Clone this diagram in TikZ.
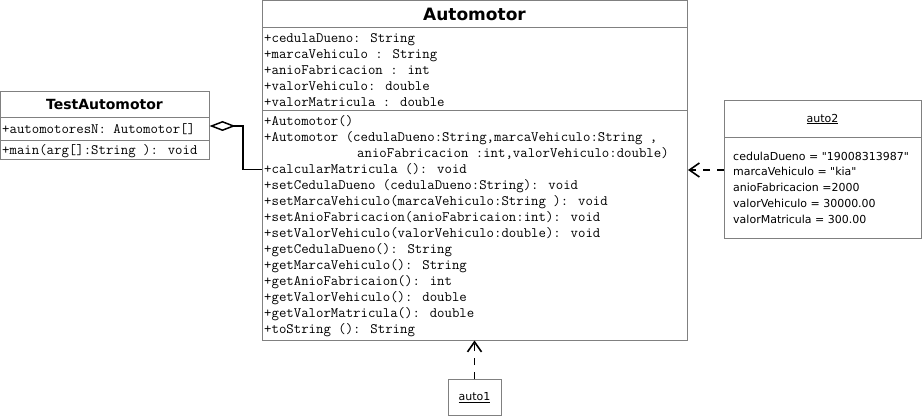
\documentclass[tikz,border=0pt]{standalone}
\usepackage{fontspec}
\newfontfamily\dejavu{DejaVu Sans}[Ligatures=TeXOff]
\usetikzlibrary{arrows.meta}
\definecolor{boxgray}{RGB}{128,128,128}
\tikzset{
  box/.style={draw=boxgray, line width=1pt, fill=white, inner sep=0pt, anchor=north west},
  sepline/.style={draw=boxgray, line width=1pt},
  mono/.style={anchor=base west, inner sep=0pt, font=\ttfamily\fontsize{14.4}{16}\selectfont},
  ttl/.style={inner sep=0pt, font=\dejavu\bfseries\fontsize{14}{16}\selectfont},
  bigttl/.style={inner sep=0pt, font=\dejavu\bfseries\fontsize{17}{19}\selectfont},
  sans/.style={anchor=base west, inner sep=0pt, font=\dejavu\fontsize{11}{14}\selectfont},
  agg/.style={draw=black, line width=1.8pt, -{Diamond[open, length=26pt, width=10pt, line width=1.5pt]}},
  dep/.style={draw=black, line width=1.8pt, dash pattern=on 7pt off 7pt, -{Straight Barb[length=10pt, width=14pt, line width=1.6pt]}}
}
\begin{document}
\begin{tikzpicture}[x=1pt, y=-1pt]
\useasboundingbox (0,0) rectangle (923,417);
\fill[white] (0,0) rectangle (923,417);

% ---------- Automotor ----------
\node[box, minimum width=425pt, minimum height=339.5pt] (automotor) at (262,0.5) {};
\draw[sepline] (262,28) -- (687,28);
\draw[sepline] (262,111) -- (687,111);
\node[bigttl] (autotitle) at (474.5,14.5) {Automotor};
\foreach [count=\i] \t in {
  {+cedulaDueno: String},
  {+marcaVehiculo : String},
  {+anioFabricacion : int},
  {+valorVehiculo: double},
  {+valorMatricula : double}}
  \node[mono] (attr\i) at (264, 42.5+16*\i-16) {\t};
\node[mono] (m1) at (264,125.5) {+Automotor()};
\node[mono] (m2) at (264,141.5) {+Automotor (cedulaDueno:String,marcaVehiculo:String ,};
\node[mono] (m3) at (357,157.5) {anioFabricacion :int,valorVehiculo:double)};
\foreach [count=\i] \t in {
  {+calcularMatricula (): void},
  {+setCedulaDueno (cedulaDueno:String): void},
  {+setMarcaVehiculo(marcaVehiculo:String ): void},
  {+setAnioFabricacion(anioFabricaion:int): void},
  {+setValorVehiculo(valorVehiculo:double): void},
  {+getCedulaDueno(): String},
  {+getMarcaVehiculo(): String},
  {+getAnioFabricaion(): int},
  {+getValorVehiculo(): double},
  {+getValorMatricula(): double},
  {+toString (): String}}
  \node[mono] (op\i) at (264, 173.5+16*\i-16) {\t};

% ---------- TestAutomotor ----------
\node[box, minimum width=209pt, minimum height=68pt] (test) at (0,91) {};
\draw[sepline] (0,117.5) -- (209,117.5);
\draw[sepline] (0,140) -- (209,140);
\node[ttl] (testtitle) at (104.5,104.5) {TestAutomotor};
\node[mono] (tattr) at (2,133) {+automotoresN: Automotor[]};
\node[mono] (tmeth) at (2,154.5) {+main(arg[]:String ): void};

% ---------- auto2 ----------
\node[box, minimum width=197pt, minimum height=138pt] (auto2) at (724,100) {};
\draw[sepline] (724,137) -- (921,137);
\node[inner sep=0pt, font=\dejavu\fontsize{11}{14}\selectfont] (auto2title) at (822.5,119) {\underline{auto2}};
\node[sans] (v1) at (733,160) {cedulaDueno = "19008313987"};
\node[sans] (v2) at (733,175.75) {marcaVehiculo = "kia"};
\node[sans] (v3) at (733,191.5) {anioFabricacion =2000};
\node[sans] (v4) at (733,207.25) {valorVehiculo = 30000.00};
\node[sans] (v5) at (733,223) {valorMatricula = 300.00};

% ---------- auto1 ----------
\node[box, minimum width=53pt, minimum height=36pt] (auto1) at (448,379) {};
\node[inner sep=0pt, font=\dejavu\fontsize{11}{14}\selectfont] (auto1title) at (474.5,398) {\underline{auto1}};

% ---------- connectors ----------
\coordinate (aggA) at (262,169.5);
\coordinate (aggB) at (243,169.5);
\coordinate (aggC) at (243,126);
\coordinate (aggD) at (209.5,126);
\draw[agg] (aggA) -- (aggB) -- (aggC) -- (aggD);

\coordinate (d2s) at (724,170);
\coordinate (d2e) at (688,170);
\draw[dep] (d2s) -- (d2e);

\coordinate (d1s) at (474.5,379);
\coordinate (d1e) at (474.5,340.5);
\draw[dep] (d1s) -- (d1e);
\end{tikzpicture}
\end{document}
